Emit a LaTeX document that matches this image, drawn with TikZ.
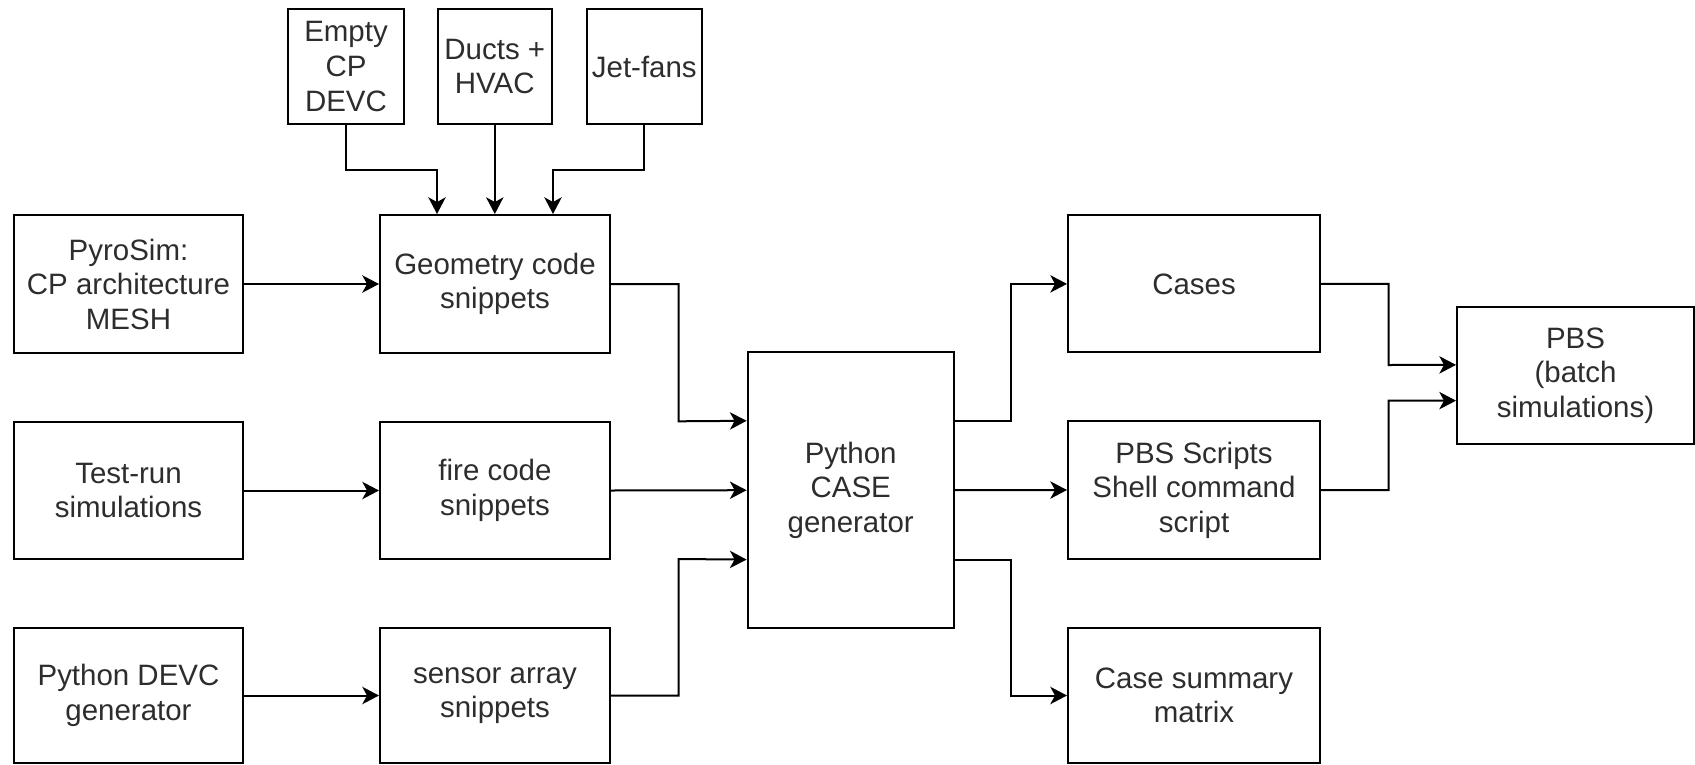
\documentclass[tikz,border=0pt]{standalone}
\usepackage{fontspec}
\setmainfont{Liberation Sans}
\usetikzlibrary{arrows.meta,calc}
\definecolor{txt}{RGB}{45,45,45}
\tikzset{
  box/.style 2 args={draw=black, line width=1.5pt, align=center, inner sep=0pt,
    minimum width=#1*0.75pt, minimum height=#2*0.75pt, text=txt,
    font=\fontsize{22.1}{25.9}\selectfont},
  arr/.style={draw=black, line width=1.5pt, -{Stealth[length=12.5pt,width=13pt,inset=3.5pt]}}
}
\begin{document}
\begin{tikzpicture}[x=0.75pt,y=-0.75pt]
\useasboundingbox (0,0) rectangle (1695,764);
% top inputs
\node[box={116}{115}] (empty) at (346,66.5) {Empty\\CP\\DEVC};
\node[box={114.4}{115}] (ducts) at (494.8,66.5) {Ducts +\\HVAC};
\node[box={114.6}{115}] (jet) at (644.3,66.5) {Jet-fans};
% left column
\node[box={229}{138}] (pyro) at (128.5,284) {PyroSim:\\CP architecture\\MESH};
\node[box={229}{137}] (test) at (128.5,490.5) {Test-run\\simulations};
\node[box={229}{135}] (pdevc) at (128.5,695.5) {Python DEVC\\generator};
% snippets column
\node[box={230}{138}] (geom) at (495,284) {Geometry code\\snippets};
\node[box={230}{137}] (fire) at (495,490.5) {fire code\\snippets};
\node[box={230}{135}] (sensor) at (495,695.5) {sensor array\\snippets};
% generator
\node[box={206.2}{275.6}] (cgen) at (850.7,490.2) {Python\\CASE\\generator};
% outputs
\node[box={252}{137}] (cases) at (1194,283.9) {Cases};
\node[box={252}{138}] (pbss) at (1194,490) {PBS Scripts\\Shell command\\script};
\node[box={252}{135}] (summary) at (1194,695.5) {Case summary\\matrix};
\node[box={237}{137.8}] (pbs) at (1575.5,375.5) {PBS\\(batch\\simulations)};
% coordinates
\coordinate (gA) at ($(geom.north west)!0.25!(geom.north east)$);
\coordinate (gC) at ($(geom.north west)!0.75!(geom.north east)$);
\coordinate (cA) at ($(cgen.north west)!0.25!(cgen.south west)$);
\coordinate (cC) at ($(cgen.north west)!0.75!(cgen.south west)$);
\coordinate (oA) at ($(cgen.north east)!0.25!(cgen.south east)$);
\coordinate (oC) at ($(cgen.north east)!0.75!(cgen.south east)$);
\coordinate (pA) at ($(pbs.north west)!0.424!(pbs.south west)$);
\coordinate (pB) at ($(pbs.north west)!0.68!(pbs.south west)$);
% top arrows
\draw[arr] (empty.south) -- ++(0,45) -| (gA);
\draw[arr] (ducts.south) -- (ducts.south |- geom.north);
\draw[arr] (jet.south) -- ++(0,45) -| (gC);
% left arrows
\draw[arr] (pyro.east) -- (geom.west);
\draw[arr] (test.east) -- (fire.west);
\draw[arr] (pdevc.east) -- (sensor.west);
% into generator
\draw[arr] (geom.east) -| (678.6,421.3) -- (cA);
\draw[arr] (fire.east) -- (cgen.west);
\draw[arr] (sensor.east) -| (678.6,559) -- (cC);
% out of generator
\draw[arr] (oA) -| (1011,283.9) -- (cases.west);
\draw[arr] (cgen.east) -- (pbss.west);
\draw[arr] (oC) -| (1011,695.5) -- (summary.west);
% into PBS
\draw[arr] (cases.east) -| (1388.5,365) -- (pA);
\draw[arr] (pbss.east) -| (1388.5,400.5) -- (pB);
\end{tikzpicture}
\end{document}
